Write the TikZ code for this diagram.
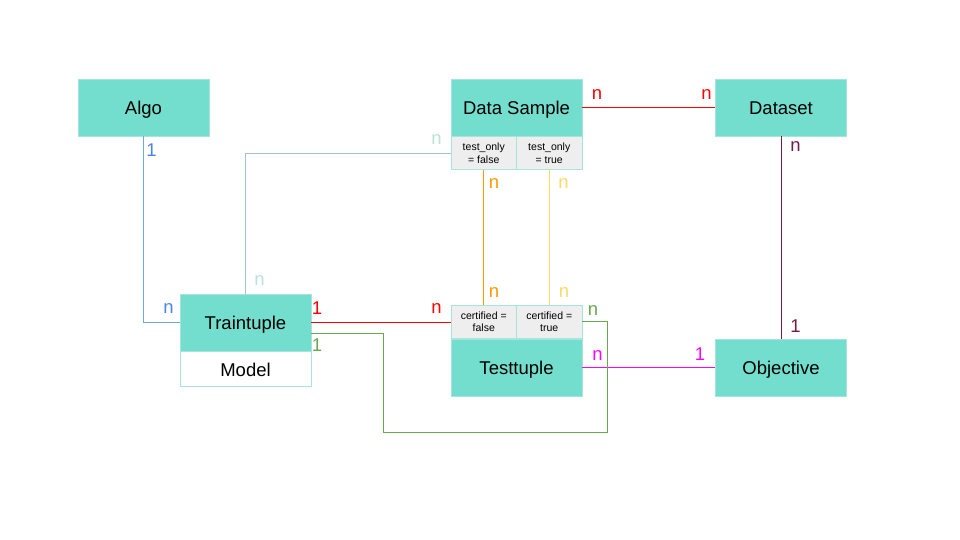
\documentclass[tikz,border=0pt]{standalone}
\usepackage{fontspec}
\setmainfont{Liberation Sans}
\usepackage{tikz}
\usetikzlibrary{calc,positioning}
\definecolor{teal1}{HTML}{73DECE}
\definecolor{tealb}{HTML}{A6E5DB}
\definecolor{cellg}{HTML}{EEEEEE}
\definecolor{bluel}{HTML}{6FA8DC}
\definecolor{bluet}{HTML}{4A86E8}
\definecolor{greyl}{HTML}{A2C4C9}
\definecolor{greyt}{HTML}{B9E2D9}
\definecolor{orangel}{HTML}{FF9900}
\definecolor{yellowl}{HTML}{FFD966}
\definecolor{maroonl}{HTML}{741B47}
\definecolor{magental}{HTML}{FF00FF}
\definecolor{greenl}{HTML}{6AA84F}
\def\tealnode{\node[rectangle,draw=tealb,fill=teal1,line width=0.8pt,minimum width=131,minimum height=57,inner sep=0,text height=13.4,text depth=0,font=\fontsize{18.5}{20}\selectfont]}
\def\cellnode{\node[rectangle,draw=tealb,fill=cellg,line width=0.8pt,minimum width=65.5,minimum height=33,inner sep=0,align=center,font=\fontsize{10.5}{12.5}\selectfont]}
\def\cardnode{\node[anchor=base,inner sep=0,font=\fontsize{18.5}{20}\selectfont]}

\begin{document}
\begin{tikzpicture}[x=1pt,y=-1pt,line width=1pt]
\useasboundingbox[fill=white] (0,0) rectangle (960,540);
\tealnode (algo) at (143.5,107.5) {Algo};
\tealnode (ds) at (516.5,107.5) {Data Sample};
\tealnode (dset) at (781,107.5) {Dataset};
\tealnode (tt) at (245.5,322.5) {Traintuple};
\tealnode (test) at (516.5,367.5) {Testtuple};
\tealnode (obj) at (781,367.5) {Objective};
\node[rectangle,draw=tealb,fill=white,line width=0.8pt,minimum width=131,minimum height=35,inner sep=0,text height=13.4,text depth=0,anchor=north,font=\fontsize{18.5}{20}\selectfont] (model) at (tt.south) {Model};
\cellnode[anchor=north west] (dsF) at (ds.south west) {test\_only\\= false};
\cellnode[anchor=north east] (dsT) at (ds.south east) {test\_only\\= true};
\cellnode[anchor=south west] (tcF) at (test.north west) {certified =\\false};
\cellnode[anchor=south east] (tcT) at (test.north east) {certified =\\true};
\coordinate (g1) at (607,432);
\coordinate (g2) at (383,333);
% connectors
\draw[bluel] (algo.south) |- (tt.west);
\draw[greyl] (tt.north) |- (dsF.west);
\draw[red] (tt.east) -- (tt.east -| tcF.west);
\draw[red] (ds.east) -- (dset.west);
\draw[orangel] (dsF.south) -- (tcF.north);
\draw[yellowl] (dsT.south) -- (tcT.north);
\draw[maroonl] (dset.south) -- (obj.north);
\draw[magental] (test.east) -- (obj.west);
\draw[greenl] (tcT.east) -| (g1) -| (g2) -- (g2 -| tt.east);
% cardinalities
\cardnode[text=bluet] (c1) at (151.5,157) {1};
\cardnode[text=bluet] (c2) at (168.5,313) {n};
\cardnode[text=greyt] (c3) at (259.5,285) {n};
\cardnode[text=greyt] (c4) at (436.5,145) {n};
\cardnode[text=red] (c5) at (317,314) {1};
\cardnode[text=red] (c6) at (436.5,313) {n};
\cardnode[text=red] (c7) at (597,100) {n};
\cardnode[text=red] (c8) at (706.5,100) {n};
\cardnode[text=orangel] (c9) at (494,188) {n};
\cardnode[text=orangel] (c10) at (494,297) {n};
\cardnode[text=yellowl] (c11) at (563.5,188) {n};
\cardnode[text=yellowl] (c12) at (564,297) {n};
\cardnode[text=maroonl] (c13) at (795.5,152) {n};
\cardnode[text=maroonl] (c14) at (795.5,332) {1};
\cardnode[text=magental] (c15) at (597.5,360) {n};
\cardnode[text=magental] (c16) at (700,360) {1};
\cardnode[text=greenl] (c17) at (593,315) {n};
\cardnode[text=greenl] (c18) at (317,351) {1};
\end{tikzpicture}
\end{document}
